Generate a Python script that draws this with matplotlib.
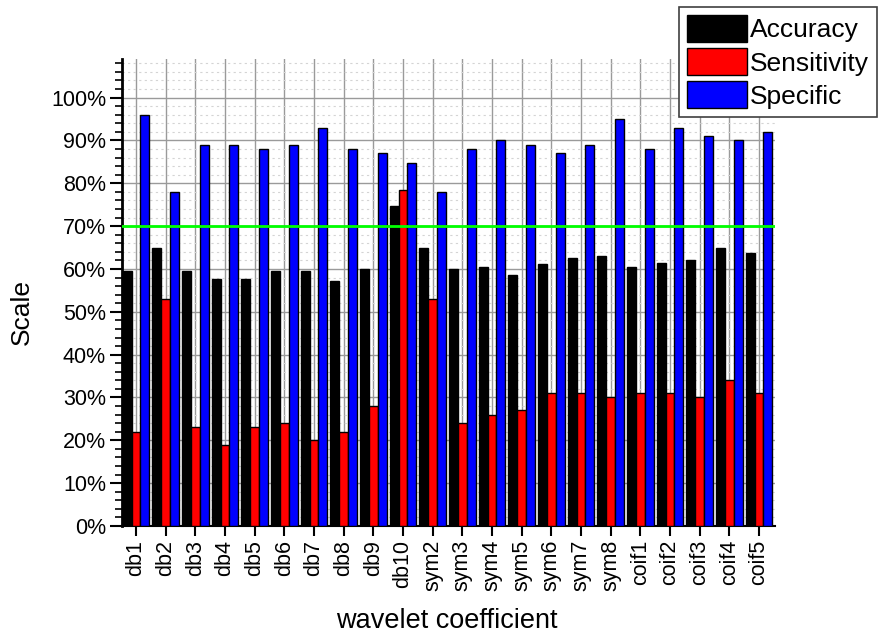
import numpy as np
import matplotlib
matplotlib.use("Agg")
import matplotlib.pyplot as plt
from matplotlib.ticker import MultipleLocator, FuncFormatter

plt.rcParams["font.family"] = ["Liberation Sans", "DejaVu Sans"]

coefficients = ["db1", "db2", "db3", "db4", "db5", "db6", "db7", "db8", "db9", "db10",
                "sym2", "sym3", "sym4", "sym5", "sym6", "sym7", "sym8",
                "coif1", "coif2", "coif3", "coif4", "coif5"]
accuracy = [59.5, 64.8, 59.6, 57.7, 57.7, 59.6, 59.6, 57.2, 60.1, 74.8,
            64.8, 60.1, 60.5, 58.7, 61.1, 62.5, 63.1,
            60.5, 61.5, 62.0, 64.8, 63.8]
sensitivity = [22, 53, 23, 19, 23, 24, 20, 22, 28, 78.5,
               53, 24, 26, 27, 31, 31, 30,
               31, 31, 30, 34, 31]
specific = [96, 78, 89, 89, 88, 89, 93, 88, 87, 84.7,
            78, 88, 90, 89, 87, 89, 95,
            88, 93, 91, 90, 92]
threshold = 70

fig = plt.figure(figsize=(8.85, 6.38), dpi=100)
ax = fig.add_axes([0.1379, 0.1755, 0.7378, 0.732])

x = np.arange(len(coefficients))
w = 0.3
b1 = ax.bar(x - w, accuracy, w, color="#000000", edgecolor="black", linewidth=1, label="Accuracy", zorder=3)
b2 = ax.bar(x, sensitivity, w, color="#ff0000", edgecolor="black", linewidth=1, label="Sensitivity", zorder=3)
b3 = ax.bar(x + w, specific, w, color="#0000ff", edgecolor="black", linewidth=1, label="Specific", zorder=3)
ax.axhline(threshold, color="#00ff00", linewidth=2, zorder=4)

ax.set_xlim(-0.47, len(coefficients) - 1 + 0.54)
ax.set_ylim(0, 109)
ax.set_xticks(x)
ax.set_xticklabels(coefficients, rotation=90, fontsize=15.5)
ax.yaxis.set_major_locator(MultipleLocator(10))
ax.yaxis.set_minor_locator(MultipleLocator(2))
ax.yaxis.set_major_formatter(FuncFormatter(lambda v, p: f"{v:.0f}%"))
ax.tick_params(axis="y", which="major", labelsize=15.5, length=8.5, width=1.5, direction="out", pad=3)
ax.tick_params(axis="y", which="minor", length=5, width=1.2, direction="out")
ax.tick_params(axis="x", which="major", length=7, width=1.5, direction="out", pad=3)

ax.grid(True, axis="y", which="major", color="#9a9a9a", linewidth=1, zorder=0)
ax.grid(True, axis="y", which="minor", color="#d4d4d4", linewidth=0.8, linestyle=(0, (2, 3)), zorder=0)
ax.grid(True, axis="x", which="major", color="#9a9a9a", linewidth=1, zorder=0)
ax.set_axisbelow(True)

for s in ["top", "right"]:
    ax.spines[s].set_visible(False)
ax.spines["left"].set_linewidth(2)
ax.spines["bottom"].set_linewidth(1.5)

ax.set_ylabel("Scale", fontsize=19)
ax.yaxis.set_label_coords(-0.135, 0.458)
ax.set_xlabel("wavelet coefficient", fontsize=19.5)
ax.xaxis.set_label_coords(0.498, -0.175)

leg = fig.legend(handles=[b1, b2, b3], loc="upper right", bbox_to_anchor=(0.991, 0.989),
                 fontsize=19, handlelength=2.3, handleheight=1.2, handletextpad=0.1,
                 labelspacing=0.22, borderpad=0.3, borderaxespad=0, fancybox=False,
                 framealpha=1, edgecolor="#404040")
leg.get_frame().set_linewidth(1.2)

fig.savefig("out.png", dpi=100)
